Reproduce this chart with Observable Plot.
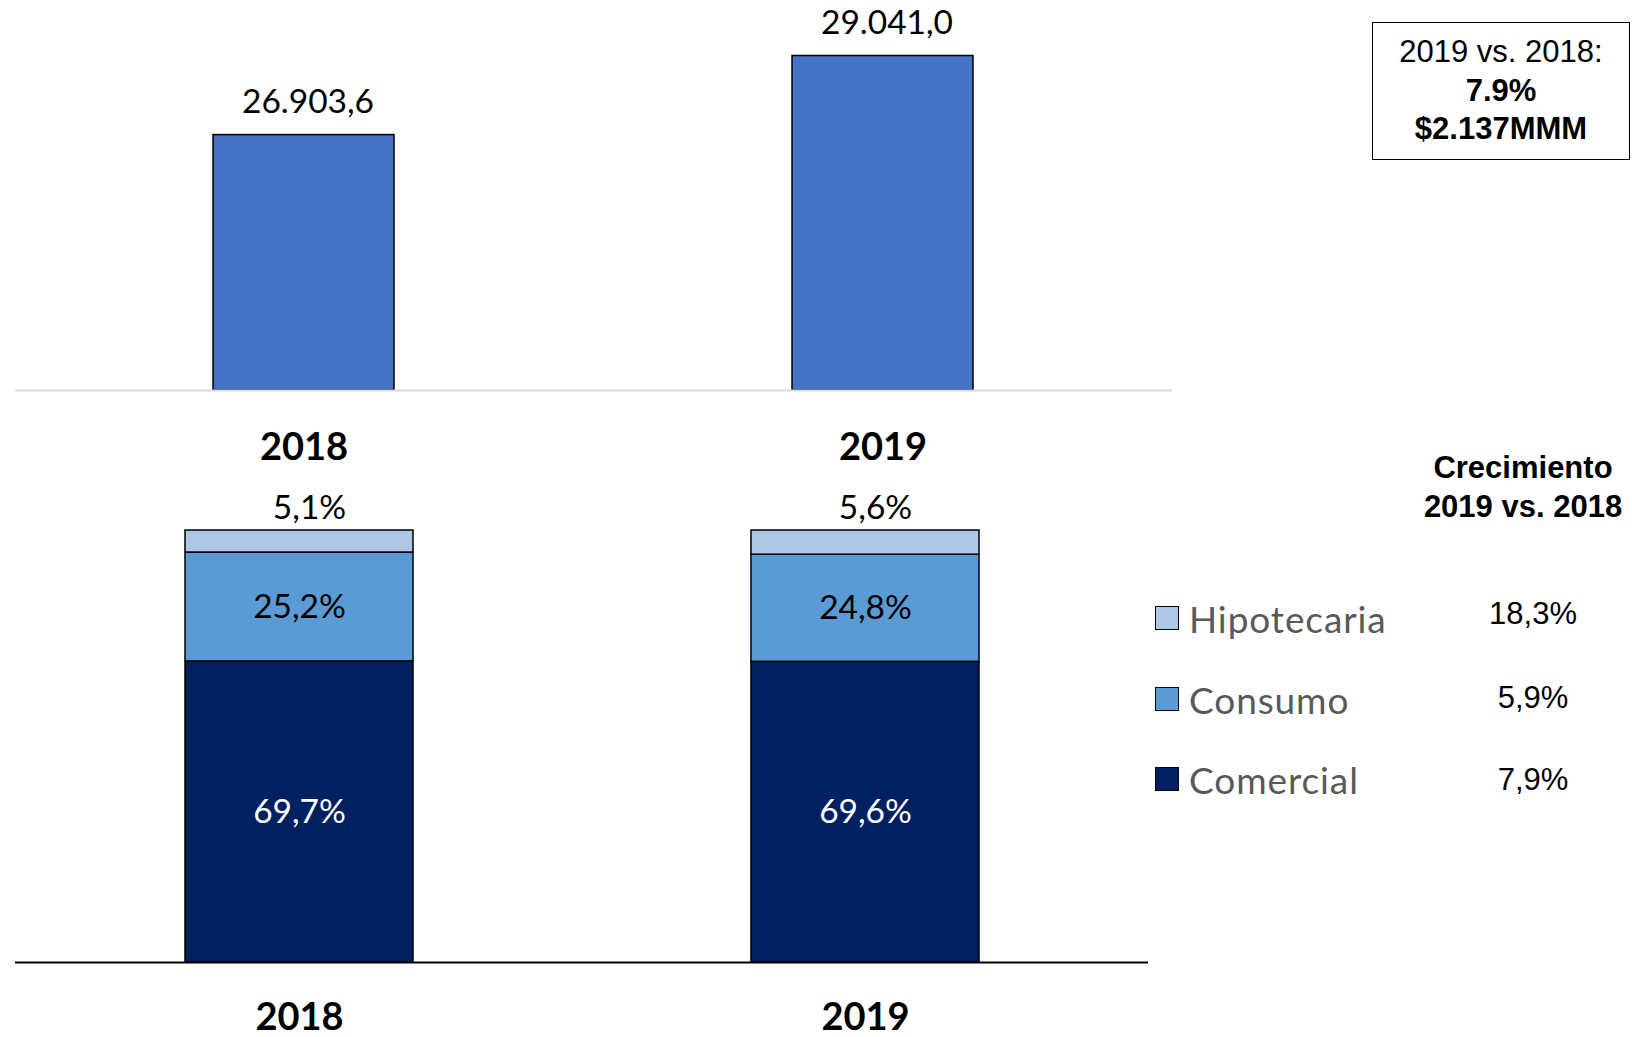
<!DOCTYPE html>
<html>
<head>
<meta charset="utf-8">
<script src="https://cdn.jsdelivr.net/npm/d3@7"></script>
<script src="https://cdn.jsdelivr.net/npm/@observablehq/plot@0.6"></script>
<style>
  html, body { margin: 0; padding: 0; background: #fff; }
  #wrap { position: relative; width: 1632px; height: 1037px; overflow: hidden; background: #fff; }
  .abs { position: absolute; }
  #top { left: 0; top: 0; }
  #bottom { left: 0; top: 470px; }
  #box { left: 1372px; top: 22px; width: 256px; height: 124px; border: 1.5px solid #000;
         font-family: "Liberation Sans", Arial, sans-serif; font-size: 31px; line-height: 38.5px;
         text-align: center; padding-top: 10px; padding-bottom: 2px; box-sizing: content-box; color: #000; }
  #box .b { font-weight: bold; }
  #growthHead { left: 1402px; top: 448px; width: 242px; text-align: center;
         font-family: "Liberation Sans", Arial, sans-serif; font-weight: bold; font-size: 31px; line-height: 39px; color: #000; }
  .leg { left: 1155px; height: 40px; display: flex; align-items: center; }
  .sw { width: 22px; height: 22px; border: 1.5px solid #000; margin-right: 10px; }
  .legtxt { font-family: Lato, sans-serif; font-size: 37px; color: #595959; letter-spacing: 0.9px; }
  .gv { left: 1452px; width: 162px; height: 40px; line-height: 40px; text-align: center;
        font-family: "Liberation Sans", Arial, sans-serif; font-size: 31px; color: #000; }
</style>
</head>
<body>
<div id="wrap">
  <div id="top" class="abs"></div>
  <div id="bottom" class="abs"></div>
  <div id="box" class="abs"></div>
  <div id="growthHead" class="abs"></div>
</div>
<script>
// ---------- DATA ----------
const years = ["2018", "2019"];
const totals = [26903.6, 29041.0];               // cartera total (top chart)
const segments = ["Comercial", "Consumo", "Hipotecaria"]; // stack order bottom -> top
const shares2018 = [69.7, 25.2, 5.1];
const shares2019 = [69.6, 24.8, 5.6];
const segmentColors = ["#002060", "#5B9BD5", "#AFC7E6"];
const growthBySegment = [7.9, 5.9, 18.3];        // aligned with segments
const boxLines = ["2019 vs. 2018:", "7.9%", "$2.137MMM"];
const growthTitle = ["Crecimiento", "2019 vs. 2018"];
const legendOrder = ["Hipotecaria", "Consumo", "Comercial"];

// ---------- FORMATS ----------
const esLocale = d3.formatLocale({decimal: ",", thousands: ".", grouping: [3], currency: ["$", ""]});
const fmtTotal = esLocale.format(",.1f");
const fmtPct = v => esLocale.format(".1f")(v) + "%";

// ---------- TOP CHART ----------
const topData = years.map((y, i) => ({year: y, value: totals[i]}));
const topChart = Plot.plot({
  width: 1632, height: 470,
  marginLeft: 15, marginRight: 460, marginTop: 20, marginBottom: 80,
  style: {background: "transparent", color: "#000", overflow: "visible"},
  x: {domain: years, paddingInner: 0.687, paddingOuter: 0.3425, axis: null},
  y: {domain: [20000, 30000], axis: null},
  marks: [
    Plot.barY(topData, {x: "year", y1: 20000, y2: "value", fill: "#4472C4", stroke: "#000", strokeWidth: 1.5}),
    Plot.ruleY([20000], {stroke: "#D9D9D9", strokeWidth: 2}),
    Plot.text(topData, {x: "year", y: "value", text: d => fmtTotal(d.value), dy: -33, dx: 4,
      fontSize: 33.5, fontFamily: "Lato, sans-serif", fill: "#000"}),
    Plot.axisX({tickSize: 0, tickPadding: 42.5, fontSize: 38, fontWeight: "bold",
      fontFamily: "Lato, sans-serif", label: null, fill: "#000"})
  ]
});
document.getElementById("top").appendChild(topChart);

// ---------- BOTTOM CHART ----------
const allShares = [shares2018, shares2019];
const stackData = years.flatMap((y, i) => segments.map((s, j) => ({year: y, segment: s, share: allShares[i][j]})));
const bottomChart = Plot.plot({
  width: 1632, height: 567,
  marginLeft: 15, marginRight: 484, marginTop: 60, marginBottom: 75,
  style: {background: "transparent", color: "#000", overflow: "visible"},
  x: {domain: years, paddingInner: 0.5975, paddingOuter: 0.299, axis: null},
  y: {domain: [0, 100], axis: null},
  color: {domain: segments, range: segmentColors},
  marks: [
    Plot.barY(stackData, {x: "year", y: "share", fill: "segment", z: "segment", stroke: "#000", strokeWidth: 1.5}),
    Plot.ruleY([0], {stroke: "#000", strokeWidth: 2}),
    Plot.text(stackData, Plot.stackY({x: "year", y: "share", z: "segment",
      text: d => d.segment === "Hipotecaria" ? "" : fmtPct(d.share),
      fill: d => d.segment === "Comercial" ? "#fff" : "#000",
      fontSize: 33.5, fontFamily: "Lato, sans-serif"})),
    Plot.text(stackData, Plot.stackY2({x: "year", y: "share", z: "segment",
      text: d => d.segment === "Hipotecaria" ? fmtPct(d.share) : "",
      fill: "#000", dy: -22, dx: 10,
      fontSize: 33.5, fontFamily: "Lato, sans-serif"})),
    Plot.axisX({tickSize: 0, tickPadding: 40.5, fontSize: 38, fontWeight: "bold",
      fontFamily: "Lato, sans-serif", label: null, fill: "#000"})
  ]
});
document.getElementById("bottom").appendChild(bottomChart);

// ---------- BOX ----------
const box = document.getElementById("box");
boxLines.forEach((t, i) => {
  const d = document.createElement("div");
  d.textContent = t;
  if (i > 0) d.className = "b";
  box.appendChild(d);
});

// ---------- GROWTH HEADER ----------
const gh = document.getElementById("growthHead");
growthTitle.forEach(t => { const d = document.createElement("div"); d.textContent = t; gh.appendChild(d); });

// ---------- LEGEND + GROWTH VALUES ----------
const legendCenters = [618, 699, 779];
const growthCenters = [614, 698, 780];
const wrap = document.getElementById("wrap");
legendOrder.forEach((s, i) => {
  const idx = segments.indexOf(s);
  const row = document.createElement("div");
  row.className = "abs leg";
  row.style.top = (legendCenters[i] - 20) + "px";
  const sw = document.createElement("div");
  sw.className = "sw";
  sw.style.background = segmentColors[idx];
  const tx = document.createElement("div");
  tx.className = "legtxt";
  tx.textContent = s;
  row.appendChild(sw); row.appendChild(tx);
  wrap.appendChild(row);
  const gv = document.createElement("div");
  gv.className = "abs gv";
  gv.style.top = (growthCenters[i] - 20) + "px";
  gv.textContent = fmtPct(growthBySegment[idx]);
  wrap.appendChild(gv);
});
</script>
</body>
</html>
